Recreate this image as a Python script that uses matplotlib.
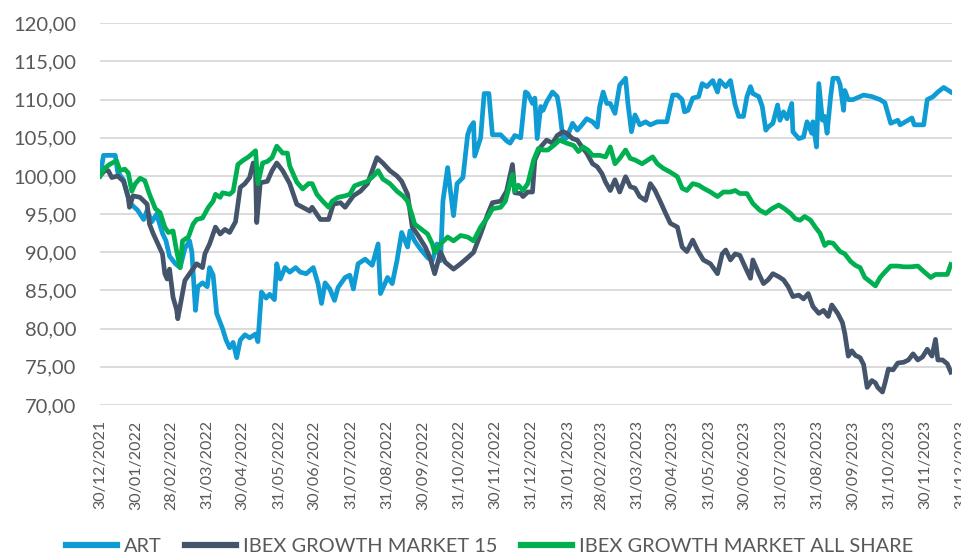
import pandas as pd
import numpy as np
import matplotlib
matplotlib.use('Agg')
import matplotlib.pyplot as plt

# days counted from 30/12/2021 (base 100 on that date)
start_date = pd.Timestamp('2021-12-30')

art_days = [0, 3, 13, 15, 20, 25, 32, 37, 40, 44, 48, 53, 56, 59, 64, 68, 72, 76, 78, 81,
            83, 87, 91, 93, 96, 99, 104, 107, 110, 113, 116, 119, 123, 127, 132, 134, 137, 141, 144, 148,
            150, 153, 157, 161, 166, 170, 175, 181, 185, 188, 191, 195, 199, 202, 208, 212, 215, 219, 225, 231,
            236, 238, 244, 248, 252, 256, 261, 263, 267, 272, 278, 282, 286, 289, 291, 295, 297, 300, 303, 308,
            312, 314, 317, 318, 323, 326, 330, 333, 340, 345, 348, 352, 357, 361, 363, 367, 369, 371, 374, 376,
            379, 384, 388, 390, 393, 396, 401, 405, 409, 413, 418, 422, 424, 427, 430, 433, 437, 441, 446, 448,
            451, 454, 458, 463, 467, 473, 481, 486, 490, 494, 496, 499, 503, 508, 511, 515, 520, 524, 526, 531,
            535, 539, 542, 546, 549, 552, 554, 559, 562, 565, 567, 571, 575, 577, 580, 583, 587, 588, 593, 597,
            600, 604, 605, 608, 610, 613, 615, 617, 620, 622, 626, 628, 631, 632, 635, 639, 648, 655, 662, 666,
            671, 677, 679, 689, 691, 699, 702, 707, 711, 716, 722]
art_vals = [100, 102.7, 102.7, 100.5, 99.5, 96.5, 95.5, 94.3, 95.5, 94, 95, 92.5, 91.5, 89.5, 88.5, 88, 90.5, 91.5, 90, 82.4,
            85.5, 86, 85.5, 88, 87, 82, 80, 78.5, 77.5, 78.2, 76.2, 78.5, 79.2, 78.8, 79.3, 78.3, 84.8, 84, 84.5, 83.8,
            88.5, 86.5, 88, 87.4, 88, 87.4, 87.2, 88, 85.9, 83.3, 86, 85.2, 83.7, 85.4, 86.7, 87, 85.2, 88.5, 89.1, 88.3,
            91.1, 84.6, 86.7, 85.9, 88.9, 92.6, 90.7, 92.8, 91.5, 90.4, 89.3, 88.9, 91.1, 88.9, 96.7, 101.1, 98.5, 94.8, 99, 99.8,
            105.4, 106.3, 107, 102.6, 105, 110.8, 110.8, 105.4, 105.4, 104.6, 104.3, 105.3, 105, 111, 110.8, 109.5, 110.2, 104.9, 109.1, 108.6,
            109.7, 111, 110.4, 108.6, 104.7, 105, 106.9, 106, 106.7, 107.5, 107.1, 106.4, 109.1, 111, 109.5, 109.5, 108.2, 111.9, 112.8, 109.5,
            105.8, 108, 106.7, 107.1, 106.7, 107.1, 107.1, 110.6, 110.6, 110, 108.4, 108.6, 110.2, 110.4, 112.1, 111.7, 112.5, 111, 112.5, 111.7,
            112.5, 109.3, 107.8, 107.8, 110.4, 111.7, 110.8, 110.4, 109.1, 106, 106.4, 106.9, 109.3, 107.3, 108.4, 107.5, 109.5, 105.8, 104.9, 105.1,
            107.1, 105.6, 107.1, 103.8, 112.1, 107.3, 107.8, 105.6, 110.4, 112.8, 112.8, 112, 108.6, 111.2, 110, 110, 110.6, 110.4, 110, 109.6,
            106.9, 107.3, 106.7, 107.6, 106.7, 106.7, 110, 110.4, 111, 111.6, 111]

ibex15_days = [0, 4, 7, 10, 15, 20, 24, 25, 28, 34, 40, 42, 45, 48, 53, 55, 57, 59, 62, 65,
               66, 70, 72, 76, 82, 87, 89, 93, 98, 102, 106, 110, 115, 119, 123, 127, 130, 132, 133, 136,
               142, 146, 150, 155, 161, 167, 172, 178, 180, 184, 187, 194, 198, 204, 208, 215, 221, 227, 231, 235,
               240, 246, 252, 256, 261, 265, 270, 276, 280, 284, 289, 293, 300, 306, 312, 317, 323, 329, 333, 340,
               345, 350, 352, 357, 359, 363, 367, 369, 374, 379, 384, 388, 393, 396, 401, 405, 409, 413, 418, 422,
               426, 429, 433, 437, 441, 446, 450, 454, 458, 463, 467, 471, 475, 480, 484, 490, 494, 498, 503, 507,
               512, 518, 524, 528, 531, 535, 539, 543, 548, 552, 554, 559, 563, 567, 571, 576, 580, 584, 588, 593,
               597, 601, 605, 610, 614, 618, 621, 626, 630, 632, 635, 638, 641, 645, 648, 651, 655, 658, 660, 664,
               666, 669, 673, 677, 682, 686, 690, 694, 698, 702, 706, 709, 711, 715, 719, 722]
ibex15_vals = [100, 100.7, 100.7, 99.8, 100, 99.3, 97.2, 95.9, 97.4, 97.2, 96.3, 93.7, 92.5, 91.5, 89.8, 87.2, 86.5, 87.8, 84.1, 82.5,
               81.3, 84.6, 86.3, 87.2, 88.5, 88, 89.8, 91.1, 93.3, 92.4, 93, 92.6, 94, 98.5, 99, 99.8, 101.7, 100.5, 93.9, 99.1,
               99.3, 100.7, 101.7, 100.7, 99, 96.3, 95.9, 95.4, 95.9, 95, 94.3, 94.3, 96.3, 96.5, 95.9, 97.4, 98, 99, 100.7, 102.4,
               101.7, 100.7, 100, 99.3, 97.6, 93.3, 92.2, 90.7, 89.3, 87.2, 90, 88.7, 87.8, 88.5, 89.3, 90, 92.4, 95, 96.5, 96.7,
               98, 101.5, 97.8, 97.7, 97.3, 97.9, 97.9, 102.1, 103.8, 104.7, 104.3, 105.3, 105.8, 105.6, 104.9, 104.7, 103.8, 103, 101.6, 101.2,
               100.3, 99.2, 98.1, 99.5, 97.9, 99.9, 98.6, 98.4, 97.3, 96.8, 99, 98.1, 96.8, 95.1, 93.8, 93.3, 90.7, 90.1, 91.6, 90.3,
               89, 88.5, 87.2, 89.8, 90.3, 89, 89.8, 89.6, 87.9, 86.6, 89, 87.2, 85.9, 86.4, 87.2, 86.8, 86.4, 85.5, 84.2, 84.4,
               83.9, 84.6, 82.9, 82, 82.4, 81.6, 83.1, 82, 80.8, 79.4, 76.4, 77.1, 76.5, 76.2, 75.3, 72.3, 73.2, 72.9, 72.3, 71.7,
               72.8, 74.7, 74.6, 75.5, 75.6, 75.9, 76.7, 75.9, 76.3, 77.3, 76.4, 78.6, 75.9, 75.9, 75.4, 74.3]

allshare_days = [0, 4, 8, 14, 17, 21, 24, 27, 30, 34, 38, 42, 47, 51, 55, 58, 62, 65, 68, 70,
                 75, 79, 82, 87, 92, 96, 98, 102, 104, 110, 113, 117, 121, 126, 132, 134, 138, 142, 146, 150,
                 155, 159, 161, 167, 172, 177, 180, 184, 189, 194, 197, 202, 208, 212, 216, 221, 227, 232, 236, 240,
                 246, 252, 257, 261, 265, 267, 273, 278, 282, 284, 289, 295, 300, 306, 312, 317, 323, 329, 333, 340,
                 344, 350, 352, 355, 359, 363, 368, 372, 376, 380, 385, 390, 396, 402, 406, 410, 414, 418, 424, 429,
                 433, 437, 441, 446, 450, 454, 460, 465, 469, 473, 478, 484, 490, 494, 498, 503, 508, 512, 518, 524,
                 529, 535, 539, 543, 549, 554, 560, 565, 570, 576, 581, 586, 590, 594, 598, 603, 607, 611, 615, 618,
                 622, 628, 632, 637, 641, 645, 649, 654, 658, 662, 666, 671, 677, 682, 688, 694, 699, 705, 709, 713,
                 719, 722]
allshare_vals = [100, 101, 101.5, 102, 100.7, 100.9, 100.4, 98, 99, 99.7, 99.4, 97.6, 95.7, 95.2, 93.3, 92.6, 92.8, 90.2, 88, 91.5,
                 92, 93.7, 94.3, 94.5, 95.9, 96.7, 97.6, 97.2, 97.8, 97.6, 98, 101.5, 102, 102.5, 103.3, 99, 101.7, 101.9, 102.4, 103.9,
                 103, 103, 101.3, 99.2, 98.3, 99, 99, 97.6, 96.7, 95.9, 96.7, 97.2, 97.4, 97.6, 98.7, 99, 99.3, 100, 100.7, 99.6,
                 99, 98, 97.4, 96.7, 94.8, 93.7, 93, 92.4, 91.1, 90, 91.1, 92, 91.5, 92.2, 92, 91.5, 93.3, 94.6, 95.7, 95.9,
                 96.7, 100.2, 98, 98.8, 98.1, 99, 102.1, 103.6, 103.4, 103.4, 104, 104.7, 104.3, 104, 103.2, 103.8, 103.4, 102.7, 102.7, 102.5,
                 103.8, 101.6, 102.3, 103.4, 102.3, 102.1, 101.6, 102.1, 102.5, 101.6, 101, 100.5, 99.9, 98.4, 98.1, 99, 98.8, 98.4, 97.9, 97.3,
                 97.9, 97.9, 98.1, 97.7, 97.7, 96.4, 95.5, 95.1, 95.7, 96.2, 95.7, 95.1, 94.4, 94.2, 94.7, 94.2, 93.3, 92.5, 90.9, 91.3,
                 91.2, 90.1, 89.8, 88.8, 88.3, 88, 86.7, 86.1, 85.6, 86.7, 87.4, 88.2, 88.2, 88.1, 88.1, 88.2, 87.5, 86.7, 87.1, 87.1,
                 87.1, 88.4]

tick_labels = ['30/12/2021', '30/01/2022', '28/02/2022', '31/03/2022', '30/04/2022', '31/05/2022',
               '30/06/2022', '31/07/2022', '31/08/2022', '30/09/2022', '31/10/2022', '30/11/2022',
               '31/12/2022', '31/01/2023', '28/02/2023', '31/03/2023', '30/04/2023', '31/05/2023',
               '30/06/2023', '31/07/2023', '31/08/2023', '30/09/2023', '31/10/2023', '30/11/2023',
               '31/12/2023']

series = [('ART', art_days, art_vals, '#0F9BD3'),
          ('IBEX GROWTH MARKET 15', ibex15_days, ibex15_vals, '#44546A'),
          ('IBEX GROWTH MARKET ALL SHARE', allshare_days, allshare_vals, '#00B050')]

plt.rcParams['font.family'] = ['Lato', 'DejaVu Sans']
txt_color = '#595959'

fig = plt.figure(figsize=(9.62, 5.54), dpi=100)
ax = fig.add_axes([100/962, 1-405/554, 852/962, (405-23.3)/554])

for name, days, vals, col in series:
    dates = start_date + pd.to_timedelta(days, unit='D')
    ax.plot(dates, vals, color=col, lw=3.4, label=name, solid_joinstyle='round')

end_date = start_date + pd.Timedelta(days=723)
ax.set_xlim(start_date, end_date)
ax.set_ylim(70, 120)
yt = np.arange(70, 121, 5)
ax.set_yticks(yt)
ax.set_yticklabels(['{:.2f}'.format(v).replace('.', ',') for v in yt], fontsize=14.5, color=txt_color)
ax.yaxis.grid(True, color='#D9D9D9', lw=1.3)
ax.set_axisbelow(True)
for s in ax.spines.values():
    s.set_visible(False)
ax.tick_params(axis='y', length=0, pad=17)
ax.tick_params(axis='x', length=0, pad=11)

tick_dates = pd.to_datetime(tick_labels, dayfirst=True)
inside = [i for i, t in enumerate(tick_dates) if t <= end_date]
ax.set_xticks([tick_dates[i] for i in inside])
ax.set_xticklabels([tick_labels[i] for i in inside], rotation=90, fontsize=11.5, color=txt_color)
# last label sits past the plot edge, like in the excel chart
for i, t in enumerate(tick_dates):
    if i not in inside:
        ax.annotate(tick_labels[i], xy=(t, 70), xycoords='data', xytext=(0, -11), textcoords='offset points',
                    rotation=90, ha='center', va='top', fontsize=11.5, color=txt_color, annotation_clip=False)

leg = fig.legend(loc='center', bbox_to_anchor=(0.509, 1-546/554), ncol=3, frameon=False,
                 fontsize=14.4, handlelength=2.55, handletextpad=0.33, columnspacing=1.2)
for h in leg.get_lines():
    h.set_linewidth(4.5)
for t in leg.get_texts():
    t.set_color(txt_color)

plt.savefig('out.png', dpi=100)
